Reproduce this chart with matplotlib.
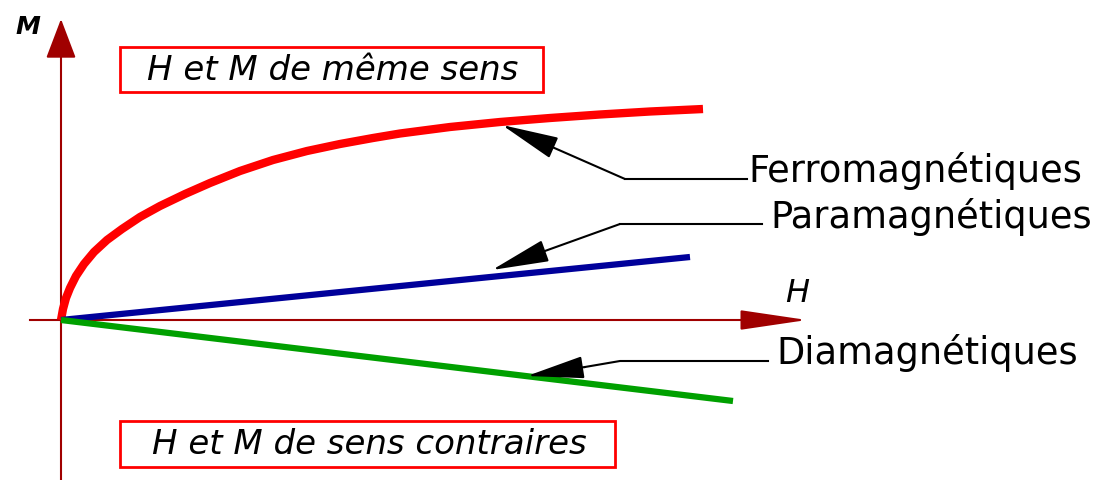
import matplotlib
matplotlib.use("Agg")
import matplotlib.pyplot as plt
from matplotlib.patches import Rectangle, FancyArrowPatch

# ---- data (H, M units) ----
ferro_H = [0.00, 0.02, 0.05, 0.09, 0.15, 0.23, 0.33, 0.46, 0.61, 0.79, 0.99, 1.24,
           1.49, 1.79, 2.12, 2.46, 2.79, 3.12, 3.39, 3.89, 4.39, 4.89, 5.39, 5.89, 6.42]
ferro_M = [0.00, 0.11, 0.22, 0.32, 0.44, 0.56, 0.68, 0.80, 0.91, 1.03, 1.14, 1.26,
           1.37, 1.49, 1.60, 1.69, 1.76, 1.82, 1.865, 1.93, 1.98, 2.02, 2.055, 2.085, 2.11]
para_H = [0.0, 6.29]
para_M = [0.0, 0.63]
dia_H = [0.0, 6.72]
dia_M = [0.0, -0.81]

labels = ["Ferromagnétiques", "Paramagnétiques", "Diamagnétiques"]
label_pos = [(6.87, 1.39), (7.09, 0.93), (7.15, -0.43)]
# leader lines: tip on curve, elbow, end near label
leader_tips = [(4.41, 1.95), (4.31, 0.50), (4.66, -0.56)]
leader_paths = [
    [(5.64, 1.41), (6.86, 1.41)],
    [(5.59, 0.96), (7.01, 0.96)],
    [(5.24, -0.47), (5.59, -0.41), (7.07, -0.41)],
]

box_texts = ["H et M de même sens", "H et M de sens contraires"]
box_rects = [(0.59, 2.28, 4.23, 0.45), (0.59, -1.47, 4.95, 0.46)]
box_text_pos = [(2.72, 2.50), (3.08, -1.24)]

xlim = (-0.61, 10.38)
ylim = (-1.60, 3.21)
axis_col = "#a00000"

fig = plt.figure(figsize=(10.99, 4.81), dpi=100)
ax = fig.add_axes([0, 0, 1, 1])
ax.set_xlim(*xlim)
ax.set_ylim(*ylim)
ax.axis("off")

# axes with arrows
ax.plot([0, 0], [ylim[0], 2.80], color=axis_col, lw=1.5, zorder=1)
ax.add_patch(FancyArrowPatch((0, 2.70), (0, 3.01), arrowstyle="-|>,head_length=25,head_width=9.5",
                             mutation_scale=1, color=axis_col, lw=1.5, zorder=1,
                             shrinkA=0, shrinkB=0))
ax.plot([-0.31, 7.0], [0, 0], color=axis_col, lw=1.5, zorder=1)
ax.add_patch(FancyArrowPatch((6.8, 0), (7.46, 0), arrowstyle="-|>,head_length=42,head_width=6.2",
                             mutation_scale=1, color=axis_col, lw=1.5, zorder=1,
                             shrinkA=0, shrinkB=0))
ax.text(-0.33, 2.94, "M", fontsize=18, fontstyle="italic", fontweight="bold", ha="center", va="center")
ax.text(7.36, 0.27, "H", fontsize=23, fontstyle="italic", ha="center", va="center")

# curves
ax.plot(ferro_H, ferro_M, color="#ff0000", lw=6, solid_capstyle="butt", solid_joinstyle="round", zorder=3)
ax.plot(para_H, para_M, color="#00009a", lw=4.5, solid_capstyle="butt", zorder=3)
ax.plot(dia_H, dia_M, color="#00a000", lw=4.5, solid_capstyle="butt", zorder=3)

# leaders
for tip, path, lab, pos in zip(leader_tips, leader_paths, labels, label_pos):
    xs = [p[0] for p in path]
    ys = [p[1] for p in path]
    ax.plot(xs, ys, color="black", lw=1.5, zorder=4)
    ax.add_patch(FancyArrowPatch(path[0], tip, arrowstyle="-|>,head_length=36,head_width=7",
                                 mutation_scale=1, color="black", lw=1.5, zorder=4,
                                 shrinkA=0, shrinkB=0))
    ax.text(pos[0], pos[1], lab, fontsize=26.5, ha="left", va="baseline", color="black")

# boxes
for (x0, y0, w, h), txt, tp in zip(box_rects, box_texts, box_text_pos):
    ax.add_patch(Rectangle((x0, y0), w, h, fill=False, edgecolor="#ff0000", lw=2, zorder=2))
    ax.text(tp[0], tp[1], txt, fontsize=24.5, fontstyle="italic", ha="center", va="center")

fig.savefig("out.png", dpi=100, facecolor="white")
